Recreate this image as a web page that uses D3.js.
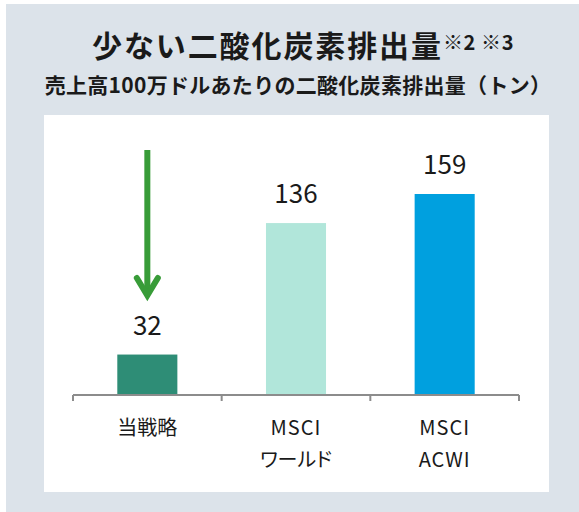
<!DOCTYPE html>
<html><head><meta charset="utf-8">
<script src="https://cdn.jsdelivr.net/npm/d3@7"></script>
<style>
html,body{margin:0;padding:0;background:#fff;}
svg{display:block;font-family:"Noto Sans CJK JP","Noto Sans",sans-serif;}
</style></head>
<body>
<svg id="chart" width="579" height="512"></svg>
<script>
// ---- data ----
const categories = ["当戦略", "MSCI\nワールド", "MSCI\nACWI"];
const values = [32, 136, 159];
const barColors = ["#2e8d76", "#b1e6da", "#00a0df"];
const titleMain = "少ない二酸化炭素排出量";
const titleNote = "※2 ※3";
const subtitle = "売上高100万ドルあたりの二酸化炭素排出量（トン）";

const svg = d3.select("#chart");

// backgrounds
svg.append("rect").attr("x", 6).attr("y", 4).attr("width", 573).attr("height", 508).attr("fill", "#dce3ea");
svg.append("rect").attr("x", 44).attr("y", 115).attr("width", 505).attr("height", 377).attr("fill", "#ffffff");

// titles
const t = svg.append("text").attr("x", 92).attr("y", 57)
  .attr("fill", "#1a1a1a").attr("font-weight", "bold");
t.append("tspan").attr("font-size", 30).attr("letter-spacing", 1.9).text(titleMain);
t.append("tspan").attr("font-size", 20).attr("dy", -7).attr("dx", 0).attr("letter-spacing", 0.6).text(titleNote);

svg.append("text").attr("x", 298).attr("y", 93).attr("text-anchor", "middle")
  .attr("font-size", 21).attr("letter-spacing", 0.3).attr("font-weight", "bold").attr("fill", "#1a1a1a").text(subtitle);

// scales
const x = d3.scaleBand().domain(categories).range([73, 519])
  .paddingInner(0.596).paddingOuter(0.298);
const y = d3.scaleLinear().domain([0, d3.max(values)]).range([395, 194]);

const data = categories.map((c, i) => ({c, v: values[i], color: barColors[i]}));

// bars
svg.selectAll("rect.bar").data(data).join("rect").attr("class", "bar")
  .attr("x", d => x(d.c)).attr("width", x.bandwidth())
  .attr("y", d => y(d.v)).attr("height", d => y(0) - y(d.v))
  .attr("fill", d => d.color);

// value labels
svg.selectAll("text.val").data(data).join("text").attr("class", "val")
  .attr("x", d => x(d.c) + x.bandwidth() / 2).attr("y", d => y(d.v) - 20)
  .attr("text-anchor", "middle").attr("font-size", 26).attr("fill", "#1a1a1a")
  .text(d => d.v);

// axis line and boundary ticks
const axisColor = "#8c8c8c";
const [r0, r1] = x.range();
svg.append("line").attr("x1", r0).attr("x2", r1).attr("y1", y(0)).attr("y2", y(0))
  .attr("stroke", axisColor).attr("stroke-width", 2);
const bounds = d3.range(categories.length + 1).map(i => r0 + i * x.step());
svg.selectAll("line.tick").data(bounds).join("line").attr("class", "tick")
  .attr("x1", d => d).attr("x2", d => d).attr("y1", y(0)).attr("y2", y(0) + 6)
  .attr("stroke", axisColor).attr("stroke-width", 2);

// category labels
svg.selectAll("text.cat").data(data).join("text").attr("class", "cat")
  .attr("text-anchor", "middle").attr("font-size", 20).attr("fill", "#1a1a1a")
  .style("font-feature-settings", "'palt'")
  .each(function(d) {
    const lines = d.c.split("\n");
    const el = d3.select(this);
    lines.forEach((ln, i) => {
      el.append("tspan").attr("x", x(d.c) + x.bandwidth() / 2)
        .attr("y", 435 + i * 32)
        .attr("letter-spacing", /^[A-Z]+$/.test(ln) ? 1 : 0).text(ln);
    });
  });

// green down arrow annotation above first bar
const ax = x(categories[0]) + x.bandwidth() / 2;
const arrowColor = "#389c38";
svg.append("line").attr("x1", ax).attr("x2", ax).attr("y1", 150).attr("y2", 295)
  .attr("stroke", arrowColor).attr("stroke-width", 6);
svg.append("path")
  .attr("d", `M${ax - 10.5},278 L${ax},295.5 L${ax + 10.5},278`)
  .attr("fill", "none").attr("stroke", arrowColor).attr("stroke-width", 6)
  .attr("stroke-linecap", "round").attr("stroke-linejoin", "miter");
</script>
</body></html>
